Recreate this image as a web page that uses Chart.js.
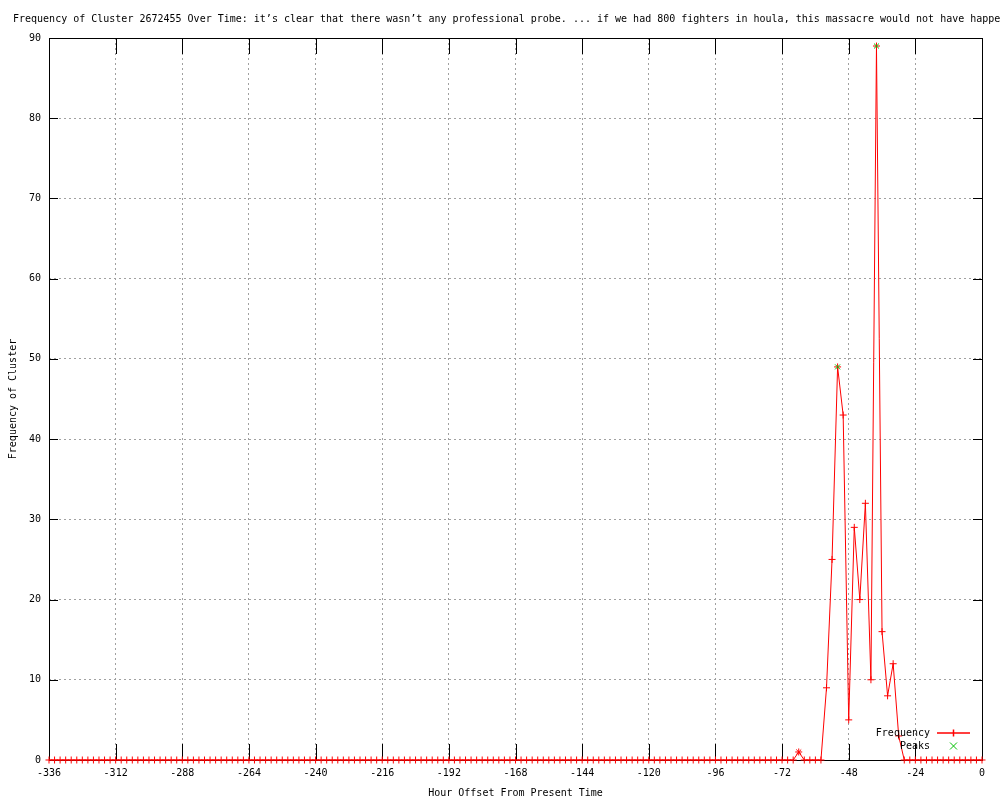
<!DOCTYPE html>
<html>
<head>
<meta charset="utf-8">
<script src="https://cdn.jsdelivr.net/npm/chart.js@4.4.1/dist/chart.umd.min.js"></script>
<style>
  html, body { margin: 0; padding: 0; background: #ffffff; }
  #wrap { width: 1000px; height: 800px; position: relative; }
</style>
</head>
<body>
<div id="wrap"><canvas id="c" width="1000" height="800"></canvas></div>
<script>
// ---- data ----
const chartTitle = "Frequency of Cluster 2672455 Over Time: it\u2019s clear that there wasn\u2019t any professional probe. ... if we had 800 fighters in houla, this massacre would not have happened";
const xAxisTitle = "Hour Offset From Present Time";
const yAxisTitle = "Frequency of Cluster";

const hours = [
  -336,-334,-332,-330,-328,-326,-324,-322,-320,-318,-316,-314,
  -312,-310,-308,-306,-304,-302,-300,-298,-296,-294,-292,-290,
  -288,-286,-284,-282,-280,-278,-276,-274,-272,-270,-268,-266,
  -264,-262,-260,-258,-256,-254,-252,-250,-248,-246,-244,-242,
  -240,-238,-236,-234,-232,-230,-228,-226,-224,-222,-220,-218,
  -216,-214,-212,-210,-208,-206,-204,-202,-200,-198,-196,-194,
  -192,-190,-188,-186,-184,-182,-180,-178,-176,-174,-172,-170,
  -168,-166,-164,-162,-160,-158,-156,-154,-152,-150,-148,-146,
  -144,-142,-140,-138,-136,-134,-132,-130,-128,-126,-124,-122,
  -120,-118,-116,-114,-112,-110,-108,-106,-104,-102,-100,-98,
  -96,-94,-92,-90,-88,-86,-84,-82,-80,-78,-76,-74,
  -72,-70,-68,-66,-64,-62,-60,-58,-56,-54,-52,-50,
  -48,-46,-44,-42,-40,-38,-36,-34,-32,-30,-28,-26,
  -24,-22,-20,-18,-16,-14,-12,-10,-8,-6,-4,-2,
  0
];
const frequency = [
  0,0,0,0,0,0,0,0,0,0,0,0,
  0,0,0,0,0,0,0,0,0,0,0,0,
  0,0,0,0,0,0,0,0,0,0,0,0,
  0,0,0,0,0,0,0,0,0,0,0,0,
  0,0,0,0,0,0,0,0,0,0,0,0,
  0,0,0,0,0,0,0,0,0,0,0,0,
  0,0,0,0,0,0,0,0,0,0,0,0,
  0,0,0,0,0,0,0,0,0,0,0,0,
  0,0,0,0,0,0,0,0,0,0,0,0,
  0,0,0,0,0,0,0,0,0,0,0,0,
  0,0,0,0,0,0,0,0,0,0,0,0,
  0,0,0,1,0,0,0,0,9,25,49,43,
  5,29,20,32,10,89,16,8,12,3,0,0,
  0,0,0,0,0,0,0,0,0,0,0,0,
  0
];
const peakHours = [-52, -38];
const peakValues = [49, 89];
const minorPeakHours = [-66];

const xTicks = [-336,-312,-288,-264,-240,-216,-192,-168,-144,-120,-96,-72,-48,-24,0];
const yTicks = [0,10,20,30,40,50,60,70,80,90];

// ---- chart ----
const FONT = "'DejaVu Sans Mono', 'Liberation Mono', monospace";
const RED = '#ff0000';
const GREEN = '#00c000';

const freqPoints = hours.map((h, i) => ({ x: h, y: frequency[i] }));
const peakPoints = peakHours.map((h, i) => ({ x: h, y: peakValues[i] }));

const gnuplotDecor = {
  id: 'gnuplotDecor',
  beforeDatasetsDraw(chart) {
    const { ctx, chartArea: a, scales } = chart;
    ctx.save();
    ctx.strokeStyle = '#000000';
    ctx.lineWidth = 1;
    ctx.beginPath();
    xTicks.forEach(v => {
      const x = Math.round(scales.x.getPixelForValue(v)) + 0.5;
      ctx.moveTo(x, a.bottom); ctx.lineTo(x, a.bottom - 16);
      ctx.moveTo(x, a.top); ctx.lineTo(x, a.top + 16);
    });
    yTicks.forEach(v => {
      const y = Math.round(scales.y.getPixelForValue(v)) + 0.5;
      ctx.moveTo(a.left, y); ctx.lineTo(a.left + 9, y);
      ctx.moveTo(a.right, y); ctx.lineTo(a.right - 9, y);
    });
    ctx.stroke();
    ctx.strokeRect(Math.round(a.left) + 0.5, Math.round(a.top) + 0.5,
                   Math.round(a.right - a.left), Math.round(a.bottom - a.top));
    ctx.restore();
  },
  afterDraw(chart) {
    const { ctx } = chart;
    ctx.save();
    ctx.font = '10px ' + FONT;
    ctx.fillStyle = '#000000';
    ctx.textBaseline = 'middle';
    ctx.textAlign = 'left';
    ctx.fillText(chartTitle, 13, 19);
    const ds = chart.data.datasets;
    ctx.textAlign = 'right';
    ctx.fillText(ds[0].label, 930, 733);
    ctx.fillText(ds[1].label, 930, 746);
    ctx.strokeStyle = RED;
    ctx.lineWidth = 1.5;
    ctx.beginPath();
    ctx.moveTo(937, 733); ctx.lineTo(970, 733);
    ctx.moveTo(953.5, 729.5); ctx.lineTo(953.5, 736.5);
    ctx.stroke();
    ctx.strokeStyle = GREEN;
    ctx.lineWidth = 1;
    ctx.beginPath();
    ctx.moveTo(950, 742.5); ctx.lineTo(957, 749.5);
    ctx.moveTo(957, 742.5); ctx.lineTo(950, 749.5);
    ctx.stroke();
    ctx.restore();
  }
};

new Chart(document.getElementById('c'), {
  type: 'line',
  data: {
    datasets: [
      {
        label: 'Frequency',
        data: freqPoints,
        borderColor: RED,
        backgroundColor: RED,
        borderWidth: 1,
        tension: 0,
        pointStyle: (ctx) => (ctx.raw && minorPeakHours.includes(ctx.raw.x)) ? 'star' : 'cross',
        pointRadius: 3.5,
        pointHoverRadius: 3.5,
        pointBorderColor: RED,
        pointBorderWidth: 1,
        clip: false,
        order: 2
      },
      {
        label: 'Peaks',
        data: peakPoints,
        showLine: false,
        borderColor: GREEN,
        backgroundColor: GREEN,
        pointStyle: 'crossRot',
        pointRadius: 3.5,
        pointBorderWidth: 1,
        clip: false,
        order: 1
      }
    ]
  },
  options: {
    responsive: false,
    animation: false,
    events: [],
    layout: { padding: { top: 38, right: 18, left: 0, bottom: 0 } },
    plugins: {
      legend: { display: false },
      title: { display: false },
      tooltip: { enabled: false }
    },
    scales: {
      x: {
        type: 'linear',
        min: -336,
        max: 0,
        afterBuildTicks: (s) => { s.ticks = xTicks.map(v => ({ value: v })); },
        afterFit: (s) => { s.height = 40; },
        ticks: {
          autoSkip: false,
          maxRotation: 0,
          padding: 7,
          color: '#000000',
          font: { family: FONT, size: 10 },
          callback: (v) => String(v)
        },
        grid: {
          color: '#a0a0a0',
          lineWidth: 1,
          drawTicks: false
        },
        border: { display: false, dash: [2, 3] },
        title: {
          display: true,
          text: xAxisTitle,
          color: '#000000',
          font: { family: FONT, size: 10 },
          padding: { top: 0, bottom: 1 }
        }
      },
      y: {
        type: 'linear',
        min: 0,
        max: 90,
        afterBuildTicks: (s) => { s.ticks = yTicks.map(v => ({ value: v })); },
        afterFit: (s) => { s.width = 49; },
        ticks: {
          padding: 8,
          color: '#000000',
          font: { family: FONT, size: 10 },
          callback: (v) => String(v)
        },
        grid: {
          color: '#a0a0a0',
          lineWidth: 1,
          drawTicks: false
        },
        border: { display: false, dash: [2, 3] },
        title: {
          display: true,
          text: yAxisTitle,
          color: '#000000',
          font: { family: FONT, size: 10 },
          padding: { top: 7, bottom: 0 }
        }
      }
    }
  },
  plugins: [gnuplotDecor]
});
</script>
</body>
</html>
